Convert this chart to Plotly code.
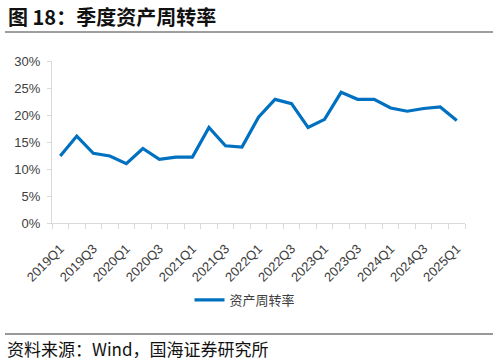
import plotly.graph_objects as go

quarters = ["2019Q1","2019Q2","2019Q3","2019Q4","2020Q1","2020Q2","2020Q3","2020Q4",
            "2021Q1","2021Q2","2021Q3","2021Q4","2022Q1","2022Q2","2022Q3","2022Q4",
            "2023Q1","2023Q2","2023Q3","2023Q4","2024Q1","2024Q2","2024Q3","2024Q4","2025Q1"]
turnover = [12.4, 16.1, 12.9, 12.4, 11.0, 13.8, 11.8, 12.2,
            12.2, 17.7, 14.3, 14.05, 19.6, 22.9, 22.1, 17.7,
            19.2, 24.2, 22.9, 22.9, 21.3, 20.7, 21.2, 21.5, 19.0]
series_name = "资产周转率"
y_ticks = [0, 5, 10, 15, 20, 25, 30]

W, H = 498, 362
L, R, T, B = 52, 465, 61, 223

def px_x(p):
    return (p - L) / (R - L)

def px_y(p):
    return (B - p) / (B - T)

xpos = list(range(len(quarters)))

fig = go.Figure()
fig.add_trace(go.Scatter(
    x=xpos, y=turnover, mode="lines", name=series_name,
    line=dict(color="#0070C0", width=3.2),
))

fig.update_layout(
    width=W, height=H,
    margin=dict(l=L, r=W - R, t=T, b=H - B),
    paper_bgcolor="white", plot_bgcolor="white",
    font=dict(family="Liberation Sans, Arial, sans-serif", color="#404040"),
    showlegend=True,
    legend=dict(orientation="h", x=px_x(245), y=px_y(300), xanchor="center", yanchor="middle",
                font=dict(family="Noto Sans CJK SC", size=13, color="#404040"),
                itemwidth=30, bgcolor="rgba(0,0,0,0)"),
    xaxis=dict(
        range=[-0.5, len(quarters) - 0.5],
        tickmode="array", tickvals=xpos[::2], ticktext=quarters[::2],
        tickangle=-45, ticks="", showgrid=False, zeroline=False,
        showline=True, linecolor="#D9D9D9", linewidth=1,
        tickfont=dict(size=13, color="#404040"),
        ticklabelstandoff=12,
        minor=dict(tickmode="linear", tick0=-0.5, dtick=1, ticks="outside",
                   ticklen=5, tickcolor="#D9D9D9", tickwidth=1, showgrid=False),
    ),
    yaxis=dict(
        range=[0, 30], tickmode="array", tickvals=y_ticks,
        ticktext=[f"{v}%" for v in y_ticks],
        showgrid=False, zeroline=False,
        showline=True, linecolor="#D9D9D9", linewidth=1,
        ticks="outside", ticklen=4, tickcolor="#D9D9D9",
        tickfont=dict(size=13, color="#404040"),
        ticklabelstandoff=4,
    ),
)

fig.add_annotation(
    text="<b>图 18：季度资产周转率</b>", xref="paper", yref="paper",
    x=px_x(6), y=px_y(17), xanchor="left", yanchor="middle", showarrow=False,
    font=dict(family="Noto Sans CJK SC", size=20, color="#111111"),
)
fig.add_annotation(
    text="资料来源：Wind，国海证券研究所", xref="paper", yref="paper",
    x=px_x(5), y=px_y(348), xanchor="left", yanchor="middle", showarrow=False,
    font=dict(family="Noto Sans CJK SC", size=17, color="#111111"),
)
fig.add_shape(type="line", xref="paper", yref="paper",
              x0=px_x(5), x1=px_x(493), y0=px_y(32), y1=px_y(32),
              line=dict(color="#7F7F7F", width=1.5))
fig.add_shape(type="line", xref="paper", yref="paper",
              x0=px_x(5), x1=px_x(493), y0=px_y(334), y1=px_y(334),
              line=dict(color="#333333", width=1))

fig.write_html("out.html", config={"displayModeBar": False},
               post_script="document.body.style.margin='0';document.body.style.overflow='hidden';")
